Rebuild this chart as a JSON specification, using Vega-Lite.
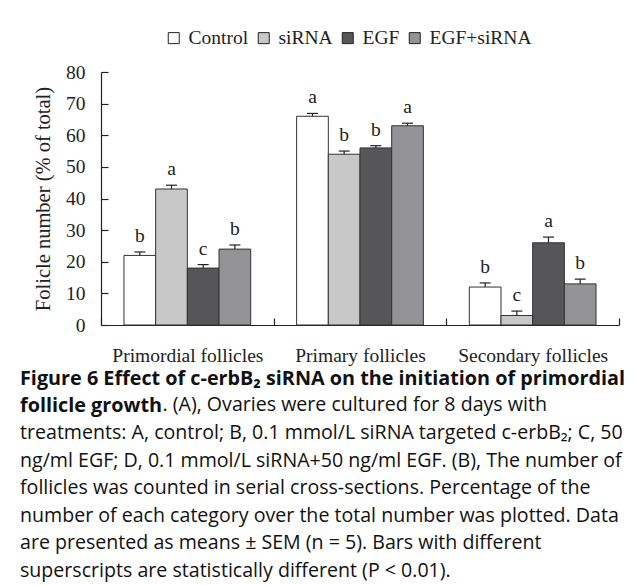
{
  "$schema": "https://vega.github.io/schema/vega-lite/v6.json",
  "width": 518,
  "height": 253,
  "autosize": {"type": "none"},
  "padding": {"left": 101, "top": 72, "right": 16, "bottom": 260},
  "background": "white",
  "config": {"view": {"stroke": null}, "axisY": {"labelOverlap": false, "labelSeparation": 0}},
  "data": {
    "values": [
      {"group": "Primordial follicles", "treatment": "Control", "value": 22, "upper": 23.1, "letter": "b"},
      {"group": "Primordial follicles", "treatment": "siRNA", "value": 43, "upper": 44.2, "letter": "a"},
      {"group": "Primordial follicles", "treatment": "EGF", "value": 18, "upper": 19.1, "letter": "c"},
      {"group": "Primordial follicles", "treatment": "EGF+siRNA", "value": 24, "upper": 25.3, "letter": "b"},
      {"group": "Primary follicles", "treatment": "Control", "value": 66, "upper": 66.9, "letter": "a"},
      {"group": "Primary follicles", "treatment": "siRNA", "value": 54, "upper": 55.0, "letter": "b"},
      {"group": "Primary follicles", "treatment": "EGF", "value": 56, "upper": 56.7, "letter": "b"},
      {"group": "Primary follicles", "treatment": "EGF+siRNA", "value": 63, "upper": 63.8, "letter": "a"},
      {"group": "Secondary follicles", "treatment": "Control", "value": 12, "upper": 13.3, "letter": "b"},
      {"group": "Secondary follicles", "treatment": "siRNA", "value": 3, "upper": 4.4, "letter": "c"},
      {"group": "Secondary follicles", "treatment": "EGF", "value": 26, "upper": 27.8, "letter": "a"},
      {"group": "Secondary follicles", "treatment": "EGF+siRNA", "value": 13, "upper": 14.5, "letter": "b"}
    ]
  },
  "title": {
    "text": ["Figure 6 Effect of c-erbB₂ siRNA on the initiation of primordial", "follicle growth"],
    "subtitle": [
      "\u200b\u00a0\u00a0\u00a0\u00a0\u00a0\u00a0\u00a0\u00a0\u00a0\u00a0\u00a0\u00a0\u00a0\u00a0\u00a0\u00a0\u00a0\u00a0\u00a0\u00a0\u00a0\u00a0\u00a0\u00a0\u00a0\u00a0\u00a0\u00a0. (A), Ovaries were cultured for 8 days with",
      "treatments: A, control; B, 0.1 mmol/L siRNA targeted c-erbB₂; C, 50",
      "ng/ml EGF; D, 0.1 mmol/L siRNA+50 ng/ml EGF. (B), The number of",
      "follicles was counted in serial cross-sections. Percentage of the",
      "number of each category over the total number was plotted. Data",
      "are presented as means ± SEM (n = 5). Bars with different",
      "superscripts are statistically different (P < 0.01)."
    ],
    "orient": "bottom",
    "anchor": "start",
    "frame": "group",
    "dx": -81,
    "offset": 4,
    "font": "Open Sans",
    "fontSize": 19.8,
    "fontWeight": "bold",
    "lineHeight": 27.6,
    "color": "#111",
    "subtitleFont": "Open Sans",
    "subtitleFontSize": 19.6,
    "subtitleFontWeight": "normal",
    "subtitleLineHeight": 27.6,
    "subtitleColor": "#111",
    "subtitlePadding": -19.5
  },
  "encoding": {
    "x": {
      "field": "group",
      "type": "nominal",
      "sort": ["Primordial follicles", "Primary follicles", "Secondary follicles"],
      "scale": {"paddingInner": 0, "paddingOuter": 0},
      "axis": {
        "title": null,
        "labelAngle": 0,
        "labelFont": "Liberation Serif",
        "labelFontSize": 19.5,
        "labelColor": "#222",
        "labelPadding": 28,
        "tickBand": "extent",
        "tickSize": -7,
        "tickColor": "#222",
        "domainColor": "#222",
        "domainWidth": 1.2,
        "tickWidth": 1.2
      }
    },
    "xOffset": {
      "field": "treatment",
      "type": "nominal",
      "sort": ["Control", "siRNA", "EGF", "EGF+siRNA"],
      "scale": {"paddingInner": 0, "paddingOuter": 0.725}
    }
  },
  "layer": [
    {
      "mark": {"type": "bar", "stroke": "#333", "strokeWidth": 1},
      "encoding": {
        "y": {
          "field": "value",
          "type": "quantitative",
          "scale": {"domain": [0, 80]},
          "axis": {
            "title": "Folicle number (% of total)",
            "titleFont": "Liberation Serif",
            "titleFontSize": 20.5,
            "titleFontWeight": "normal",
            "titleColor": "#222",
            "titlePadding": 12,
            "values": [0, 10, 20, 30, 40, 50, 60, 70, 80],
            "tickCount": 9,
            "labelOverlap": false,
            "grid": false,
            "labelFont": "Liberation Serif",
            "labelFontSize": 19.5,
            "labelColor": "#222",
            "labelPadding": 23,
            "tickSize": -7,
            "tickColor": "#222",
            "domainColor": "#222",
            "domainWidth": 1.2,
            "tickWidth": 1.2
          }
        },
        "fill": {
          "field": "treatment",
          "type": "nominal",
          "sort": ["Control", "siRNA", "EGF", "EGF+siRNA"],
          "scale": {"domain": ["Control", "siRNA", "EGF", "EGF+siRNA"], "range": ["#ffffff", "#c8c8c8", "#565658", "#939396"]},
          "legend": {
            "orient": "none",
            "legendX": 63,
            "legendY": -44,
            "direction": "horizontal",
            "title": null,
            "symbolType": "square",
            "symbolSize": 121,
            "symbolStrokeColor": "#222",
            "symbolStrokeWidth": 1,
            "symbolOpacity": 1,
            "labelFont": "Liberation Serif",
            "labelFontSize": 19.5,
            "labelColor": "#222",
            "labelOffset": 5,
            "columnPadding": 5,
            "labelLimit": 0
          }
        }
      }
    },
    {
      "mark": {"type": "rule", "stroke": "#222", "strokeWidth": 1.2},
      "encoding": {
        "y": {"field": "value", "type": "quantitative"},
        "y2": {"field": "upper"}
      }
    },
    {
      "mark": {"type": "tick", "orient": "horizontal", "size": 11, "thickness": 1.2, "color": "#222", "opacity": 1},
      "encoding": {
        "y": {"field": "upper", "type": "quantitative"}
      }
    },
    {
      "mark": {"type": "text", "dy": -10, "baseline": "alphabetic", "font": "Liberation Serif", "fontSize": 19.5, "color": "#222"},
      "encoding": {
        "y": {"field": "upper", "type": "quantitative"},
        "text": {"field": "letter"}
      }
    }
  ]
}
